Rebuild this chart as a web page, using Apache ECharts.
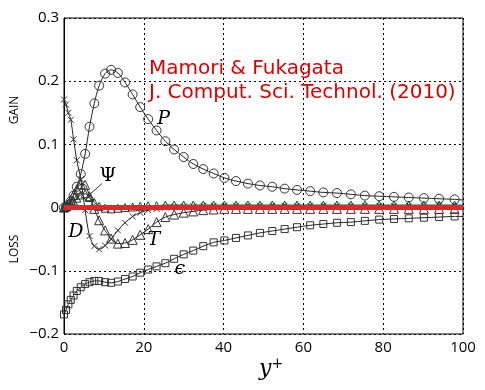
<!DOCTYPE html>
<html><head><meta charset="utf-8">
<script src="https://cdn.jsdelivr.net/npm/echarts@6/dist/echarts.min.js"></script>
<style>html,body{margin:0;padding:0;background:#fff}#c{width:485px;height:390px}</style>
</head><body><div id="c"></div>
<script>
// y+ positions of the plotted points (last one is the curve end, no marker)
const yPlus = [0,0.5,1.1,1.7,2.4,3.2,4.2,5.3,6.4,7.6,8.8,10.3,11.8,13.5,15.3,17.2,19.1,21.1,23.2,25.4,27.6,30.0,32.4,34.9,37.5,40.2,43.1,46.1,49.1,52.2,55.3,58.4,61.7,65.0,68.4,71.9,75.4,79.0,82.7,86.4,90.2,94.0,97.9,100];
// Production P
const P = [0,0.001,0.004,0.010,0.019,0.033,0.053,0.085,0.128,0.165,0.193,0.212,0.218,0.213,0.198,0.179,0.159,0.140,0.122,0.105,0.092,0.080,0.069,0.061,0.054,0.047,0.042,0.038,0.035,0.033,0.030,0.028,0.026,0.024,0.023,0.021,0.019,0.018,0.017,0.016,0.015,0.014,0.013,0.012];
// Dissipation epsilon
const EPS = [-0.169,-0.162,-0.153,-0.146,-0.139,-0.132,-0.126,-0.121,-0.118,-0.116,-0.116,-0.118,-0.119,-0.117,-0.113,-0.109,-0.103,-0.098,-0.093,-0.088,-0.081,-0.074,-0.068,-0.061,-0.055,-0.052,-0.048,-0.044,-0.040,-0.037,-0.034,-0.031,-0.028,-0.026,-0.024,-0.023,-0.021,-0.019,-0.018,-0.017,-0.016,-0.015,-0.014,-0.014];
// Viscous diffusion D
const D = [0.171,0.163,0.150,0.139,0.108,0.075,0.045,-0.004,-0.045,-0.061,-0.066,-0.060,-0.050,-0.036,-0.024,-0.014,-0.008,-0.004,-0.002,0.000,0.001,0.002,0.002,0.003,0.003,0.003,0.003,0.003,0.003,0.003,0.003,0.003,0.003,0.003,0.003,0.003,0.003,0.003,0.003,0.003,0.003,0.003,0.003,0.003];
// Turbulent transport T
const T = [0,0.002,0.006,0.012,0.020,0.029,0.037,0.036,0.018,-0.002,-0.020,-0.036,-0.049,-0.057,-0.056,-0.051,-0.043,-0.034,-0.023,-0.015,-0.011,-0.008,-0.006,-0.004,-0.003,-0.002,-0.002,-0.002,-0.002,-0.002,-0.002,-0.002,-0.002,-0.002,-0.002,-0.002,-0.002,-0.002,-0.002,-0.002,-0.002,-0.002,-0.002,-0.002];
// Pressure term Psi
const PSI = [0,0.001,0.003,0.006,0.010,0.015,0.020,0.022,0.016,0.008,0.002,-0.001,-0.002,-0.001,0.000,0.001,0.002,0.003,0.003,0.004,0.004,0.004,0.004,0.004,0.004,0.004,0.004,0.004,0.004,0.004,0.004,0.004,0.004,0.004,0.004,0.004,0.004,0.004,0.004,0.004,0.004,0.004,0.004,0.004];
// Balance (sum) line
const SUM = yPlus.map(() => 0);
const xTicks = [0,20,40,60,80,100];
const yTicks = [-0.2,-0.1,0,0.1,0.2,0.3];
const titleLines = ['Mamori & Fukagata','J. Comput. Sci. Technol. (2010)'];
const termLabels = [{t:'P',x:25,y:0.14},{t:'Ψ',x:11,y:0.05},{t:'D',x:3,y:-0.038},{t:'T',x:22.5,y:-0.051},{t:'ϵ',x:29,y:-0.098}];

const chart = echarts.init(document.getElementById('c'));
function mk(vals){
  return yPlus.map((x,i)=> i===yPlus.length-1 ? {value:[x,vals[i]],symbol:'none'} : [x,vals[i]]);
}
function ser(name, vals, symbol, size){
  return {name, type:'line', data:mk(vals), smooth:0.3, symbol, symbolSize:size,
    showAllSymbol:true, lineStyle:{color:'#222',width:1},
    itemStyle:{color:'rgba(255,255,255,0)',borderColor:'#333',borderWidth:1}, z:3};
}
const fmt = v => Math.abs(v)<1e-9 ? '0' : (v<0?'\u2212':'')+Math.abs(v).toFixed(1);
chart.setOption({
  animation:false,
  grid:{left:64,right:22,top:18,bottom:56,show:true,borderColor:'#000',borderWidth:1,backgroundColor:'transparent'},
  xAxis:{type:'value',min:0,max:100,interval:20,
    axisLine:{show:true,lineStyle:{color:'#000'}},axisTick:{show:false},
    axisLabel:{color:'#000',fontSize:15,fontFamily:'Open Sans',margin:6},
    splitLine:{show:true,lineStyle:{color:'#000',type:[2,3],width:1}}},
  yAxis:{type:'value',min:-0.2,max:0.3,interval:0.1,
    axisLine:{show:true,lineStyle:{color:'#000'}},axisTick:{show:false},
    axisLabel:{color:'#000',fontSize:15,fontFamily:'Open Sans',margin:5,formatter:fmt},
    splitLine:{show:true,lineStyle:{color:'#000',type:[2,3],width:1}}},
  series:[
    ser('P',P,'circle',9),
    ser('eps',EPS,'rect',7),
    ser('D',D,'path://M0,0L10,10M10,0L0,10',6),
    ser('T',T,'triangle',9),
    ser('Psi',PSI,'triangle',8),
    {name:'sum',type:'line',data:yPlus.map((x,i)=>[x,SUM[i]]),symbol:'none',
     lineStyle:{color:'#e8232a',width:5},z:4}
  ]
});

function px(x,y){return chart.convertToPixel({gridIndex:0},[x,y]);}
const g = [];
g.push({type:'text',x:149,y:59,style:{text:titleLines[0],fill:'#dd0000',font:'20px "DejaVu Sans"'}});
g.push({type:'text',x:149,y:83,style:{text:titleLines[1],fill:'#dd0000',font:'20px "DejaVu Sans"'}});
g.push({type:'text',rotation:Math.PI/2,style:{text:'GAIN',fill:'#000',font:'12px "Open Sans"',align:'center',verticalAlign:'middle'},x:15,y:110});
g.push({type:'text',rotation:Math.PI/2,style:{text:'LOSS',fill:'#000',font:'12px "Open Sans"',align:'center',verticalAlign:'middle'},x:15,y:249});
g.push({type:'text',x:259,y:357,style:{text:'{a|y}{b|+}',rich:{a:{font:'italic 22px "DejaVu Serif"',fill:'#000'},b:{font:'14px "DejaVu Serif"',fill:'#000',verticalAlign:'top',padding:[0,0,10,0]}}}});
termLabels.forEach(l=>{
  const p = px(l.x,l.y);
  const it = l.t==='Ψ' ? '' : 'italic ';
  g.push({type:'text',x:p[0],y:p[1],style:{text:l.t,fill:'#000',font:it+'19px "DejaVu Serif"',align:'center',verticalAlign:'middle'}});
});
const a = px(9.5,0.038), b = px(6,0.018);
g.push({type:'line',shape:{x1:a[0],y1:a[1],x2:b[0],y2:b[1]},style:{stroke:'#333',lineWidth:1}});
chart.setOption({graphic:g});
</script></body></html>
